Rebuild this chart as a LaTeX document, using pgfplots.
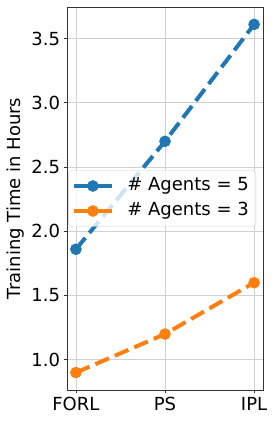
\documentclass[border=0pt]{standalone}
\usepackage{fontspec}
\setmainfont{DejaVu Sans}
\usepackage{pgfplots}
\pgfplotsset{compat=1.18}
\definecolor{tabblue}{HTML}{1F77B4}
\definecolor{taborange}{HTML}{FF7F0E}
\begin{document}
\begin{tikzpicture}
\useasboundingbox (0,0) rectangle (275pt,423pt);
\begin{axis}[
 at={(67pt,33pt)}, anchor=south west,
 scale only axis, width=196pt, height=383pt,
 xmin=-0.1, xmax=2.1, ymin=0.7645, ymax=3.7455,
 xtick={0,1,2}, xticklabels={FORL,PS,IPL},
 ytick={1,1.5,2,2.5,3,3.5},
 yticklabel style={/pgf/number format/.cd, fixed, fixed zerofill, precision=1},
 /pgf/number format/assume math mode=true,
 xtick pos=lower, ytick pos=left,
 grid=major, grid style={color=black!18, line width=0.8pt},
 axis line style={black!80, line width=0.8pt},
 tick align=outside, major tick length=3.5pt,
 tick style={black!80, line width=0.8pt},
 tick label style={font=\fontsize{18}{21}\selectfont},
 ylabel={Training Time in Hours},
 ylabel style={at={(axis description cs:-0.265,0.5)}, anchor=center, font=\fontsize{18}{21}\selectfont},
 legend style={at={(0.006,0.5)}, anchor=west, fill=white, fill opacity=0.8, draw opacity=1, text opacity=1,
   draw=black!20, rounded corners=3pt, font=\fontsize{18}{21}\selectfont, row sep=4pt, inner xsep=4pt, inner ysep=5pt,
   nodes={text height=13pt, text depth=4pt, inner ysep=2pt, inner xsep=3pt}},
 legend cell align=left,
 legend image code/.code={\draw[mark repeat=2,mark phase=2,#1, solid, fill opacity=1] plot coordinates {(0pt,0pt) (18.5pt,0pt) (38pt,0pt)}; \path[draw=none, fill=none] (0pt,0pt) -- (50pt,0pt);},
]
\addplot[tabblue, line width=4pt, dash pattern=on 14.8pt off 6.4pt, mark=*, mark size=5.5pt, mark options={solid, line width=0.6pt}]
 coordinates {(0,1.86) (1,2.70) (2,3.61)};
\addlegendentry{\# Agents = 5}
\addplot[taborange, line width=4pt, dash pattern=on 14.8pt off 6.4pt, mark=*, mark size=5.5pt, mark options={solid, line width=0.6pt}]
 coordinates {(0,0.90) (1,1.20) (2,1.60)};
\addlegendentry{\# Agents = 3}
\end{axis}
\end{tikzpicture}
\end{document}
